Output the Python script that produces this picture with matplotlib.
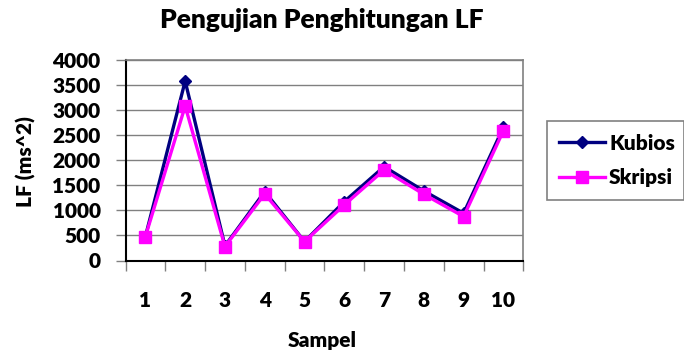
import matplotlib
matplotlib.use("Agg")
import matplotlib.pyplot as plt
import numpy as np

categories = ["1", "2", "3", "4", "5", "6", "7", "8", "9", "10"]
kubios = [477, 3570, 291, 1371, 377, 1172, 1868, 1384, 940, 2650]
skripsi = [477, 3073, 278, 1325, 377, 1106, 1801, 1318, 874, 2583]
yticks = [0, 500, 1000, 1500, 2000, 2500, 3000, 3500, 4000]

plt.rcParams['font.family'] = ['Lato', 'DejaVu Sans']
WT = 'heavy'

fig = plt.figure(figsize=(6.84, 3.57), dpi=100)
W, H = 684, 357
ax = fig.add_axes([125.5 / W, 1 - 260.5 / H, (523.3 - 125.5) / W, (260.5 - 59.5) / H])

x = np.arange(1, len(categories) + 1)
ax.plot(x, kubios, color='#000080', lw=2.4, marker='D', markersize=6.5,
        markerfacecolor='#000080', markeredgecolor='#000080', label='Kubios', zorder=3)
ax.plot(x, skripsi, color='#FF00FF', lw=2.4, marker='s', markersize=8.5,
        markerfacecolor='#FF00FF', markeredgecolor='#FF00FF', label='Skripsi', zorder=4)

ax.set_xlim(0.5, len(categories) + 0.5)
ax.set_ylim(0, 4000)
ax.set_yticks(yticks)
ax.set_yticklabels([str(v) for v in yticks], fontsize=15, fontweight=WT)
ax.set_xticks(x)
ax.set_xticklabels(categories, fontsize=15, fontweight=WT)
ax.tick_params(axis='x', which='major', length=0, pad=22)
ax.set_xticks(np.arange(0.5, len(categories) + 1, 1), minor=True)
ax.tick_params(axis='x', which='minor', length=7, width=1, color='#808080', direction='out')
ax.tick_params(axis='y', which='major', length=7, width=1, color='#808080', direction='out', pad=11)

ax.yaxis.grid(True, color='#808080', lw=1)
ax.set_axisbelow(True)
for s in ['top', 'right']:
    ax.spines[s].set_color('#808080')
    ax.spines[s].set_linewidth(1.2)
ax.spines['left'].set_color('black')
ax.spines['left'].set_linewidth(1.5)
ax.spines['bottom'].set_color('black')
ax.spines['bottom'].set_linewidth(1.5)

fig.text(322 / W, 1 - 20 / H, 'Pengujian Penghitungan LF', ha='center', va='center',
         fontsize=19, fontweight=WT)
fig.text(26 / W, 1 - 162 / H, 'LF (ms^2)', ha='center', va='center', rotation=90,
         fontsize=15, fontweight=WT)
fig.text(322 / W, 1 - 340 / H, 'Sampel', ha='center', va='center',
         fontsize=15, fontweight=WT)

leg = ax.legend(loc='center left',
                bbox_to_anchor=(546.7 / W, 1 - 202.7 / H, (684 - 546.7) / W, (202.7 - 118.3) / H),
                bbox_transform=fig.transFigure, mode='expand', fancybox=False, framealpha=1,
                edgecolor='#808080', prop={'size': 15, 'weight': WT}, handlelength=2.2,
                handletextpad=0.2, labelspacing=0.75, borderpad=0.6, borderaxespad=0)
leg.get_frame().set_linewidth(1.2)

fig.savefig('out.png', dpi=100)
